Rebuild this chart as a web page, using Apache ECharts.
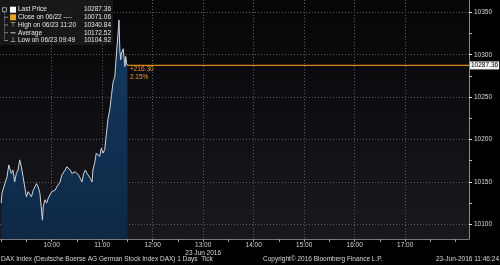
<!DOCTYPE html>
<html><head><meta charset="utf-8">
<script src="https://cdn.jsdelivr.net/npm/echarts@6/dist/echarts.min.js"></script>
<style>html,body{margin:0;padding:0;background:#000;}#c{width:500px;height:265px;}</style>
</head><body><div id="c"></div>
<script>
// ---- data ----
const times = ['09:00','09:01','09:03','09:05','09:07','09:09','09:10','09:12','09:14','09:16','09:18','09:20','09:22','09:24','09:26','09:28','09:30','09:32','09:34','09:36','09:38','09:40','09:42','09:44','09:46',
  '09:49','09:50','09:52','09:54','09:56','09:58',
  '10:00','10:02','10:04','10:06','10:08','10:10','10:12','10:14','10:16','10:18','10:20','10:22','10:24','10:26','10:28','10:30','10:32','10:34','10:36','10:38','10:40','10:42','10:44','10:46','10:48',
  '10:49','10:51','10:53','10:55','10:57','10:59',
  '11:01','11:03','11:05','11:07','11:09','11:11','11:13','11:15','11:17',
  '11:20','11:21','11:22','11:23','11:25','11:27','11:28','11:29','11:30'];
const prices = [10125,10137,10135,10150,10156,10170,10172,10160,10164,10150,10160,10164,10176,10168,10156,10144,10132.5,10138.5,10140,10132.5,10140,10142,10148,10144,10136.6,
  10104.92,10121,10129,10125,10131,10132.5,
  10138.5,10136.6,10140,10144,10146,10150,10158,10160,10164,10168,10170,10164,10160,10158,10162,10160,10158,10154,10150,10160,10164,10160,10158,10154,10150,
  10164,10172,10184,10186,10180,10190,
  10184,10188,10207,10225,10235,10252,10268,10274,10302,
  10340.84,10305,10294,10302,10307,10286,10298,10290,10287.36];
const yLabelValues = [10100,10150,10200,10250,10300,10350];
const yMinorTickValues = [10125,10175,10225,10275,10325];
const xLabelTimes = ['10:00','11:00','12:00','13:00','14:00','15:00','16:00','17:00'];
const xMinorTickTimes = ['09:00','09:30','10:30','11:30','12:30','13:30','14:30','15:30','16:30','17:30','18:00'];
const dateLabel = '23 Jun 2016';
const dateLabelAt = '13:00';
const legendLabels = ['Last Price','Close on 06/22 ----','High on 06/23 11:20','Average','Low on 06/23 09:49'];
const legendValues = [10287.36, 10071.06, 10340.84, 10172.52, 10104.92];
const lastPrice = legendValues[0], prevClose = legendValues[1];
const footerLeft = 'DAX Index (Deutsche Boerse AG German Stock Index DAX) 1 Days  Tick';
const footerMid = 'Copyright\u00A9 2016 Bloomberg Finance L.P.';
const footerRight = '23-Jun-2016 11:46:24';

// ---- helpers: time of day as minutes ----
function tm(s){ const p = s.split(':').map(Number); return p[0]*60 + p[1] + (p[2]||0)/60; }
function pad(n){ return (n<10?'0':'')+n; }
function fmtTime(v){ const m = Math.round(v); return pad(Math.floor(m/60))+':'+pad(m%60); }
const xMin = tm('08:58:36'), xMax = tm('18:15:48');
const yMin = 10082.7, yMax = 10364.5;
const seriesData = times.map((t,i)=>[tm(t), prices[i]]);
const lastTime = tm(times[times.length-1]);
const diff = lastPrice - prevClose;
const changeText = '+' + diff.toFixed(2) + '\n' + (diff/prevClose*100).toFixed(2) + '%';
const FONT = 'Liberation Sans';
const FS = 6.5;
const ORANGE = '#d98a1c';
const GRID_LINE = {show:true, lineStyle:{color:'#5a5a62', width:1, type:[1,2]}};

const chart = echarts.init(document.getElementById('c'), null, {renderer:'canvas'});
const rows = [9.7, 17.3, 25, 32.8, 40.5];
const graphics = [
  {type:'rect', shape:{x:0,y:0,width:113,height:45}, style:{fill:'rgba(26,26,28,0.93)'}, z:100},
  {type:'rect', shape:{x:2.5,y:rows[0]-2,width:4,height:4}, style:{fill:'none', stroke:'#999', lineWidth:1}, z:101},
  {type:'line', shape:{x1:4.5,y1:rows[0]+2.5,x2:4.5,y2:rows[4]}, style:{stroke:'#888', lineWidth:1, lineDash:[1,1]}, z:101},
  {type:'rect', shape:{x:10,y:rows[0]-3,width:6,height:6}, style:{fill:'#ffffff'}, z:101},
  {type:'rect', shape:{x:10,y:rows[1]-3,width:6,height:6}, style:{fill:'#f0a020'}, z:101},
  {type:'text', x:13, y:rows[2], style:{text:'\u22A4', fill:'#ddd', font:'7px DejaVu Sans', align:'center', verticalAlign:'middle'}, z:101},
  {type:'line', shape:{x1:10.5,y1:rows[3],x2:15.5,y2:rows[3]}, style:{stroke:'#ccc', lineWidth:1}, z:101},
  {type:'text', x:13, y:rows[4], style:{text:'\u22A5', fill:'#ddd', font:'7px DejaVu Sans', align:'center', verticalAlign:'middle'}, z:101}
];
for (let i=1;i<5;i++) graphics.push({type:'line', shape:{x1:4.5,y1:rows[i],x2:8,y2:rows[i]}, style:{stroke:'#888', lineWidth:1}, z:101});
legendLabels.forEach((l,i)=>{
  graphics.push({type:'text', x:18, y:rows[i], style:{text:l, fill:'#e6e6e6', font:FS+'px '+FONT, verticalAlign:'middle'}, z:102});
  graphics.push({type:'text', x:111, y:rows[i], style:{text:legendValues[i].toFixed(2), fill:'#e6e6e6', font:FS+'px '+FONT, align:'right', verticalAlign:'middle'}, z:102});
});
graphics.push({type:'text', x:1, y:259.5, style:{text:footerLeft, fill:'#d8d8d8', font:FS+'px '+FONT, verticalAlign:'middle'}});
graphics.push({type:'text', x:263, y:259.5, style:{text:footerMid, fill:'#d8d8d8', font:FS+'px '+FONT, verticalAlign:'middle'}});
graphics.push({type:'text', x:499, y:259.5, style:{text:footerRight, fill:'#d8d8d8', font:FS+'px '+FONT, align:'right', verticalAlign:'middle'}});

const option = {
  animation:false,
  backgroundColor:'#000',
  grid:{left:0,right:31,top:0,bottom:26,show:true,borderWidth:0,
    backgroundColor: new echarts.graphic.LinearGradient(0,0,0,1,[{offset:0,color:'#060608'},{offset:1,color:'#18181e'}])},
  xAxis:[
    {type:'value', min:xMin, max:xMax,
     axisLine:{show:true, lineStyle:{color:'#777', width:1}},
     axisTick:{show:true, customValues:xLabelTimes.map(tm), length:3, lineStyle:{color:'#999'}},
     axisLabel:{show:true, customValues:xLabelTimes.map(tm), color:'#d8d8d8', fontSize:FS, fontFamily:FONT, margin:3, lineHeight:7.3,
       formatter:function(v){ const s=fmtTime(v); return s===dateLabelAt ? s+'\n'+dateLabel : s; }},
     splitLine:GRID_LINE},
    {type:'value', min:xMin, max:xMax, position:'bottom',
     axisLine:{show:false}, axisLabel:{show:false},
     axisTick:{show:true, customValues:xMinorTickTimes.map(tm), length:3, lineStyle:{color:'#999'}},
     splitLine:{show:false}}
  ],
  yAxis:[
    {type:'value', position:'right', min:yMin, max:yMax,
     axisLine:{show:true, lineStyle:{color:'#8a8a8a', width:1}},
     axisTick:{show:true, customValues:yLabelValues, length:3, lineStyle:{color:'#e0e0e0', width:1}},
     axisLabel:{show:true, customValues:yLabelValues, color:'#dcdcdc', fontSize:FS, fontFamily:FONT, margin:5, formatter:v=>String(v)},
     splitLine:GRID_LINE},
    {type:'value', position:'right', min:yMin, max:yMax,
     axisLine:{show:false}, axisLabel:{show:false},
     axisTick:{show:true, customValues:yMinorTickValues, length:3, lineStyle:{color:'#bbbbbb', width:1}},
     splitLine:{show:false}}
  ],
  series:[{
    type:'line', name:'Last Price', xAxisIndex:0, yAxisIndex:0, data:seriesData, showSymbol:false, symbol:'none',
    lineStyle:{color:'#cfd3da', width:1},
    areaStyle:{origin:'start', opacity:1, color:new echarts.graphic.LinearGradient(0,0,0,1,[{offset:0,color:'#133a60'},{offset:1,color:'#0e2846'}])},
    markPoint:{silent:true, animation:false, symbol:'rect', symbolSize:1, itemStyle:{color:'rgba(0,0,0,0)'},
      label:{show:true, position:[3,0], formatter:changeText, color:'#eb9a2a', fontSize:FS, fontFamily:FONT, lineHeight:8.5, align:'left', verticalAlign:'top'},
      data:[{coord:[lastTime,lastPrice]}]}
  },{
    type:'line', name:'Last level', xAxisIndex:0, yAxisIndex:0, z:5, silent:true,
    data:[[lastTime,lastPrice],[xMax,lastPrice]], showSymbol:false, symbol:'none',
    color:ORANGE,
    lineStyle:{color:ORANGE, width:1.4, opacity:1}, itemStyle:{color:ORANGE},
    endLabel:{show:true, formatter:lastPrice.toFixed(2), color:'#000', backgroundColor:'#f4f4f4', fontSize:FS, fontFamily:FONT, padding:[1,1,0,1], distance:1}
  }],
  graphic:graphics
};
chart.setOption(option);
</script></body></html>
